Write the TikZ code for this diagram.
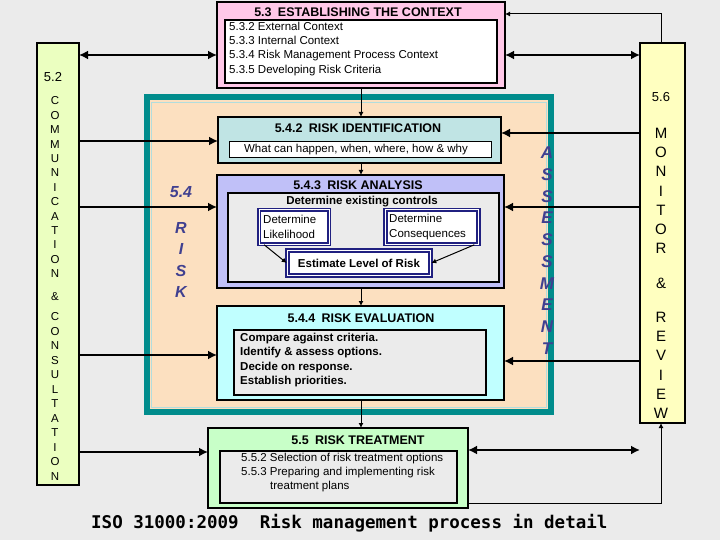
\documentclass[tikz,border=0pt]{standalone}
\usepackage{fontspec}
\setmainfont{Liberation Sans}
\newfontfamily\monof{DejaVu Sans Mono}
\usetikzlibrary{arrows.meta}
\definecolor{bg}{HTML}{EBEBEB}
\definecolor{pinkc}{HTML}{FFC8E8}
\definecolor{greenl}{HTML}{EBFFC0}
\definecolor{yell}{HTML}{FFFFC0}
\definecolor{teal2}{HTML}{008C8C}
\definecolor{peach}{HTML}{FCE0C0}
\definecolor{idc}{HTML}{C0E4E4}
\definecolor{anc}{HTML}{C0C0F8}
\definecolor{evc}{HTML}{C0FFFF}
\definecolor{trc}{HTML}{C8FFC8}
\definecolor{innerg}{HTML}{EBEBEB}
\definecolor{navy}{HTML}{202080}
\definecolor{lett}{HTML}{404090}
\tikzset{
 box/.style={draw=black,line width=1.6pt},
 inbox/.style={draw=black,line width=1.3pt,fill=innerg},
 thick arr/.style={line width=2.6pt,-{Latex[length=9pt,width=9pt]}},
 dbl arr/.style={line width=2.6pt,{Latex[length=9pt,width=9pt]}-{Latex[length=9pt,width=9pt]}},
 thin arr/.style={line width=1pt,-{Latex[length=5pt,width=5pt]}},
 ttl/.style={font=\bfseries\fontsize{12.5}{14}\selectfont},
 txt/.style={font=\fontsize{11.5}{14.2}\selectfont,align=left,inner sep=0pt},
 vl/.style={font=\fontsize{11.5}{13}\selectfont,inner sep=0pt},
 bl/.style={font=\bfseries\itshape\fontsize{16}{18}\selectfont,text=lett,inner sep=0pt},
 sub/.style={draw=navy,line width=1.6pt,fill=white,double=white,double distance=1pt,inner sep=0pt},
}
\begin{document}
\begin{tikzpicture}[x=1pt,y=-1pt]
\fill[bg] (0,0) rectangle (720,540);
\useasboundingbox (0,0) rectangle (720,540);
% side boxes
\draw[box,fill=greenl] (37,43) rectangle (79,485);
\draw[box,fill=yell] (640,43) rectangle (685,423);
\node[font=\fontsize{13}{15}\selectfont] (t52) at (53,77) {5.2};
\node[font=\fontsize{13}{15}\selectfont] (t56) at (661,97) {5.6};
\foreach \c [count=\i from 0] in {C,O,M,M,U,N,I,C,A,T,I,O,N}
  \node[vl] (cm\i) at (55,101+14.4*\i) {\c};
\node[vl] (amp1) at (55,297) {\&};
\foreach \c [count=\i from 0] in {C,O,N,S,U,L,T,A,T,I,O,N}
  \node[vl] (cs\i) at (55,317+14.5*\i) {\c};
\foreach \c [count=\i from 0] in {M,O,N,I,T,O,R}
  \node[font=\fontsize{15}{17}\selectfont,inner sep=0pt] (mo\i) at (661,133+19.3*\i) {\c};
\node[font=\fontsize{15}{17}\selectfont,inner sep=0pt] (amp2) at (661,283) {\&};
\foreach \c [count=\i from 0] in {R,E,V,I,E,W}
  \node[font=\fontsize{15}{17}\selectfont,inner sep=0pt] (rv\i) at (661,317+19.3*\i) {\c};
% context
\draw[box,fill=pinkc] (217,2) rectangle (505,88);
\node[ttl] (t53) at (358,12) {5.3\enspace ESTABLISHING THE CONTEXT};
\draw[inbox,fill=white] (225,20) rectangle (497,83);
\node[txt,anchor=north west] (ctx) at (229,22) {5.3.2 External Context\\5.3.3 Internal Context\\5.3.4 Risk Management Process Context\\5.3.5 Developing Risk Criteria};
% teal frame
\draw[teal2,line width=5pt,fill=peach] (147,98) rectangle (550,411);
\draw[white!70!teal2,line width=0.8pt] (151,102) rectangle (546,407);
\draw[teal2,line width=1pt] (144,95) rectangle (553,414);
% identification
\draw[box,fill=idc] (218,117) rectangle (501,163);
\node[ttl] (t542) at (358,128) {5.4.2\enspace RISK IDENTIFICATION};
\draw[line width=1pt,fill=white] (229,142) rectangle (491,158);
\node[txt] (what) at (356,150) {What can happen, when, where, how \& why};
% analysis
\draw[box,fill=anc] (217,175) rectangle (504,288);
\node[ttl] (t543) at (358,185) {5.4.3\enspace RISK ANALYSIS};
\draw[inbox] (228,193) rectangle (499,282);
\node[txt,font=\bfseries\fontsize{11.5}{14}\selectfont] (dec) at (362,202) {Determine existing controls};
\node[sub,minimum width=70pt,minimum height=34pt] (lik) at (294,227) {};
\node[txt,anchor=west,font=\fontsize{11.5}{14.5}\selectfont] (likt) at (263,227) {Determine\\Likelihood};
\node[sub,minimum width=93pt,minimum height=34pt] (con) at (432,227) {};
\node[txt,anchor=west,font=\fontsize{11.5}{14.5}\selectfont] (cont) at (389,227) {Determine\\Consequences};
\node[sub,minimum width=143pt,minimum height=25pt] (est) at (359,263) {};
\node[txt,font=\bfseries\fontsize{11.5}{14}\selectfont] (estt) at (359,263) {Estimate Level of Risk};
\draw[line width=1pt,-{Latex[length=5pt,width=5pt]}] (lik.south west)++(6,0) -- (est.west);
\draw[line width=1pt,-{Latex[length=5pt,width=5pt]}] (con.south east)++(-5,0) -- (est.east);
% evaluation
\draw[box,fill=evc] (217,306) rectangle (504,400);
\node[ttl] (t544) at (361,318) {5.4.4\enspace RISK EVALUATION};
\draw[inbox] (234,330) rectangle (486,395);
\node[txt,font=\bfseries\fontsize{11.5}{14.3}\selectfont,anchor=north west] (evt) at (240,333) {Compare against criteria.\\Identify \& assess options.\\Decide on response.\\Establish priorities.};
% treatment
\draw[box,fill=trc] (208,428) rectangle (468,508);
\node[ttl] (t55) at (358,440) {5.5\enspace RISK TREATMENT};
\draw[inbox] (220,451) rectangle (457,503);
\node[txt,anchor=north west] (trt) at (241,453) {5.5.2 Selection of risk treatment options\\5.5.3 Preparing and implementing risk\\\hspace*{29pt}treatment plans};
% labels
\node[bl] (n54) at (181,192) {5.4};
\foreach \c [count=\i from 0] in {R,I,S,K}
  \node[bl] (rk\i) at (181,228+21.3*\i) {\c};
\foreach \c [count=\i from 0] in {A,S,S,E,S,S,M,E,N,T}
  \node[bl,font=\bfseries\itshape\fontsize{17}{19}\selectfont] (as\i) at (547,153+21.7*\i) {\c};
% flow arrows
\draw[line width=1pt,-{Latex[length=5pt,width=5pt]}] (361,88) -- (361,117);
\draw[line width=1pt,-{Latex[length=5pt,width=5pt]}] (361,163) -- (361,175);
\draw[line width=1pt,-{Latex[length=5pt,width=5pt]}] (361,288) -- (361,306);
\draw[line width=1pt,-{Latex[length=5pt,width=5pt]}] (361,400) -- (361,428);
% side arrows
\draw[dbl arr] (79,55) -- (217,55);
\draw[dbl arr] (505,55) -- (640,55);
\draw[thin arr] (661,43) -- (661,14) -- (505,14);
\draw[thick arr] (79,141) -- (218,141);
\draw[thick arr] (79,207) -- (217,207);
\draw[thick arr] (79,355) -- (217,355);
\draw[thick arr] (79,452) -- (208,452);
\draw[thick arr] (640,133) -- (501,133);
\draw[thick arr] (640,207) -- (504,207);
\draw[thick arr] (640,361) -- (504,361);
\draw[dbl arr] (468,450) -- (640,450);
\draw[thin arr] (468,503) -- (661,503) -- (661,423);
% title
\node[font=\monof\bfseries\fontsize{17.5}{20}\selectfont,anchor=west,inner sep=0pt] (ttl) at (91,523) {ISO 31000:2009\ \ Risk management process in detail};
\end{tikzpicture}
\end{document}
